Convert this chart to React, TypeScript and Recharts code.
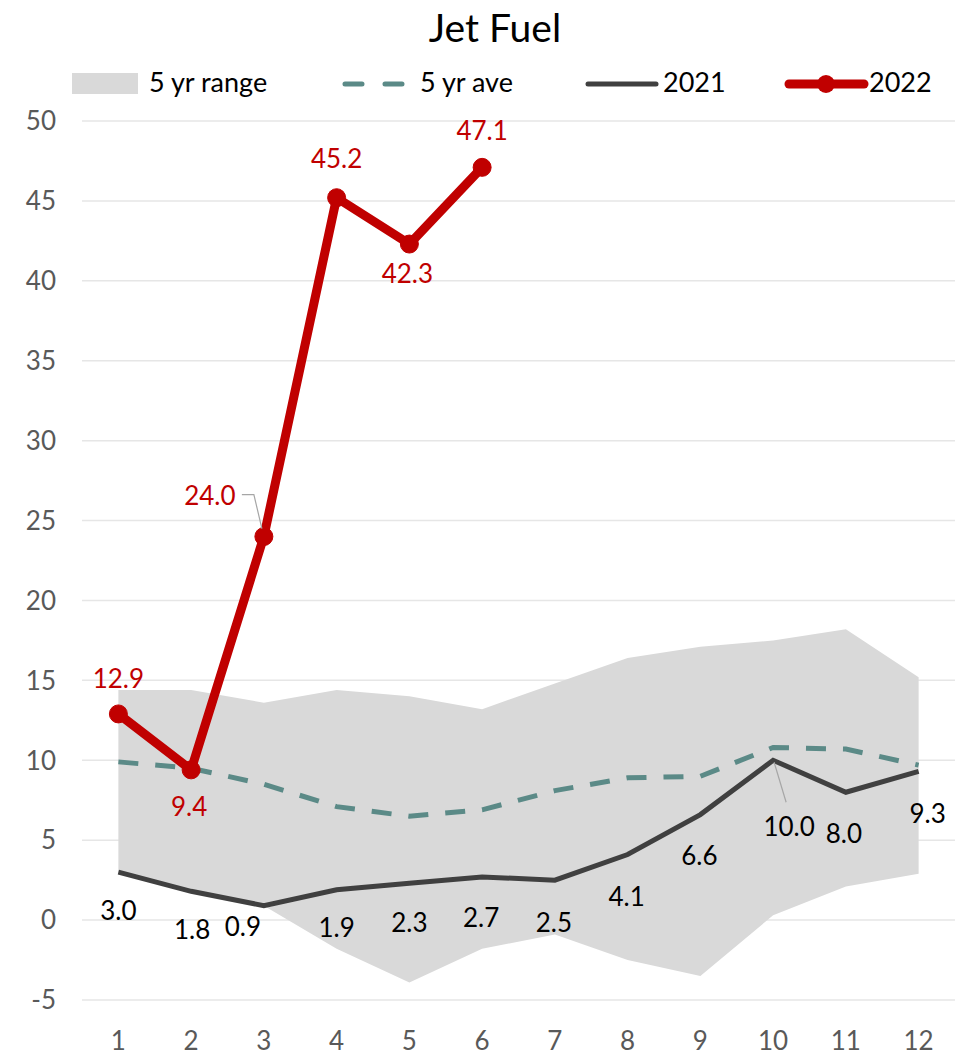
import React from "react";
import {
  ComposedChart,
  Area,
  Line,
  XAxis,
  YAxis,
  CartesianGrid,
  Legend,
} from "recharts";

// values
const months = [1, 2, 3, 4, 5, 6, 7, 8, 9, 10, 11, 12];
const rangeLow = [3.0, 1.8, 0.9, -1.8, -3.9, -1.8, -0.9, -2.5, -3.5, 0.3, 2.1, 2.9];
const rangeHigh = [14.4, 14.4, 13.6, 14.4, 14.0, 13.2, 14.8, 16.4, 17.1, 17.5, 18.2, 15.2];
const avg5yr = [9.9, 9.5, 8.5, 7.1, 6.5, 6.9, 8.1, 8.9, 9.0, 10.8, 10.7, 9.7];
const y2021 = [3.0, 1.8, 0.9, 1.9, 2.3, 2.7, 2.5, 4.1, 6.6, 10.0, 8.0, 9.3];
const y2022 = [12.9, 9.4, 24.0, 45.2, 42.3, 47.1];
const yTicks = [-5, 0, 5, 10, 15, 20, 25, 30, 35, 40, 45, 50];

// label placement (dx, dy from the point)
const off2021 = [[0, 41], [1, 41], [-21, 24], [0, 41], [0, 42], [-1, 43], [-1, 45], [-1, 45], [-1, 44], [16, 69], [-2, 44], [9, 45]];
const off2022 = [[0, -33], [-2, 40], [-54, -38], [0, -36], [-2, 32], [0, -34]];

const FONT = "Lato, 'Open Sans', sans-serif";
const RED = "#c00000";
const DARK = "#404040";
const TEAL = "#5b8a87";
const BAND = "#d9d9d9";

const chartData = months.map((m, i) => ({
  month: m,
  range: [rangeLow[i], rangeHigh[i]],
  avg: avg5yr[i],
  y2021: y2021[i],
  y2022: i < y2022.length ? y2022[i] : null,
}));

const label2021 = (props: any) => {
  const { x, y, value, index } = props;
  if (value == null) return null;
  const [dx, dy] = off2021[index];
  return (
    <g>
      {index === 9 && (
        <line x1={x + 1} y1={y + 2} x2={x + 13} y2={y + 42} stroke="#a6a6a6" strokeWidth={1.2} />
      )}
      <text
        x={x + dx}
        y={y + dy}
        textAnchor="middle"
        dominantBaseline="middle"
        fontSize={26}
        fontFamily={FONT}
        fill="#000"
      >
        {Number(value).toFixed(1)}
      </text>
    </g>
  );
};

const label2022 = (props: any) => {
  const { x, y, value, index } = props;
  if (value == null) return null;
  const [dx, dy] = off2022[index];
  return (
    <g>
      {index === 2 && (
        <polyline
          points={`${x - 22},${y - 42} ${x - 10},${y - 42} ${x - 2},${y - 8}`}
          fill="none"
          stroke="#a6a6a6"
          strokeWidth={1.2}
        />
      )}
      <text
        x={x + dx}
        y={y + dy}
        textAnchor="middle"
        dominantBaseline="middle"
        fontSize={26}
        fontFamily={FONT}
        fill={RED}
      >
        {Number(value).toFixed(1)}
      </text>
    </g>
  );
};

const renderLegend = () => (
  <svg width={970} height={40} style={{ display: "block" }}>
    <rect x={72} y={11} width={66} height={21} fill={BAND} />
    <text x={149} y={23} dominantBaseline="middle" fontSize={27} fontFamily={FONT} fill="#000">
      5 yr range
    </text>
    <line x1={345} x2={402} y1={22} y2={22} stroke={TEAL} strokeWidth={5} strokeDasharray="17 23" strokeLinecap="round" />
    <text x={420} y={23} dominantBaseline="middle" fontSize={27} fontFamily={FONT} fill="#000">
      5 yr ave
    </text>
    <line x1={588} x2={656} y1={22} y2={22} stroke={DARK} strokeWidth={5} strokeLinecap="round" />
    <text x={663} y={23} dominantBaseline="middle" fontSize={27} fontFamily={FONT} fill="#000">
      2021
    </text>
    <line x1={789} x2={864} y1={22} y2={22} stroke={RED} strokeWidth={9} strokeLinecap="round" />
    <circle cx={826} cy={22} r={9} fill={RED} />
    <text x={869} y={23} dominantBaseline="middle" fontSize={27} fontFamily={FONT} fill="#000">
      2022
    </text>
  </svg>
);

export default function App() {
  return (
    <div style={{ position: "absolute", left: 0, top: 0, width: 970, height: 1058, background: "#fff" }}>
      <div
        style={{
          position: "absolute",
          top: 4,
          left: 0,
          width: 990,
          textAlign: "center",
          fontFamily: FONT,
          fontSize: 39,
          lineHeight: "46px",
          color: "#000",
        }}
      >
        Jet Fuel
      </div>
      <ComposedChart
        width={970}
        height={1058}
        data={chartData}
        margin={{ top: 81, right: 15, bottom: 0, left: 0 }}
      >
        <CartesianGrid vertical={false} stroke="#e6e6e6" strokeWidth={1.5} />
        <XAxis
          dataKey="month"
          type="number"
          domain={[0.5, 12.5]}
          ticks={months}
          axisLine={false}
          tickLine={false}
          tickSize={0}
          tickMargin={32}
          height={58}
          tick={{ fill: "#595959", fontSize: 26, fontFamily: FONT }}
        />
        <YAxis
          type="number"
          domain={[-5, 50]}
          ticks={yTicks}
          axisLine={false}
          tickLine={false}
          tickSize={0}
          tickMargin={26}
          width={82}
          tick={{ fill: "#595959", fontSize: 26, fontFamily: FONT }}
        />
        <Legend
          verticalAlign="top"
          align="left"
          content={renderLegend}
          wrapperStyle={{ top: 62, left: 0, width: 970, height: 40 }}
        />
        <Area
          dataKey="range"
          type="linear"
          fill={BAND}
          fillOpacity={1}
          stroke="none"
          isAnimationActive={false}
          activeDot={false}
        />
        <Line
          dataKey="avg"
          type="linear"
          stroke={TEAL}
          strokeWidth={5}
          strokeDasharray="20 17"
          dot={false}
          activeDot={false}
          isAnimationActive={false}
        />
        <Line
          dataKey="y2021"
          type="linear"
          stroke={DARK}
          strokeWidth={5}
          dot={false}
          activeDot={false}
          label={label2021}
          isAnimationActive={false}
        />
        <Line
          dataKey="y2022"
          type="linear"
          stroke={RED}
          strokeWidth={9}
          strokeLinejoin="round"
          dot={{ r: 9, fill: RED, stroke: RED, strokeWidth: 1 }}
          activeDot={false}
          label={label2022}
          isAnimationActive={false}
        />
      </ComposedChart>
    </div>
  );
}
